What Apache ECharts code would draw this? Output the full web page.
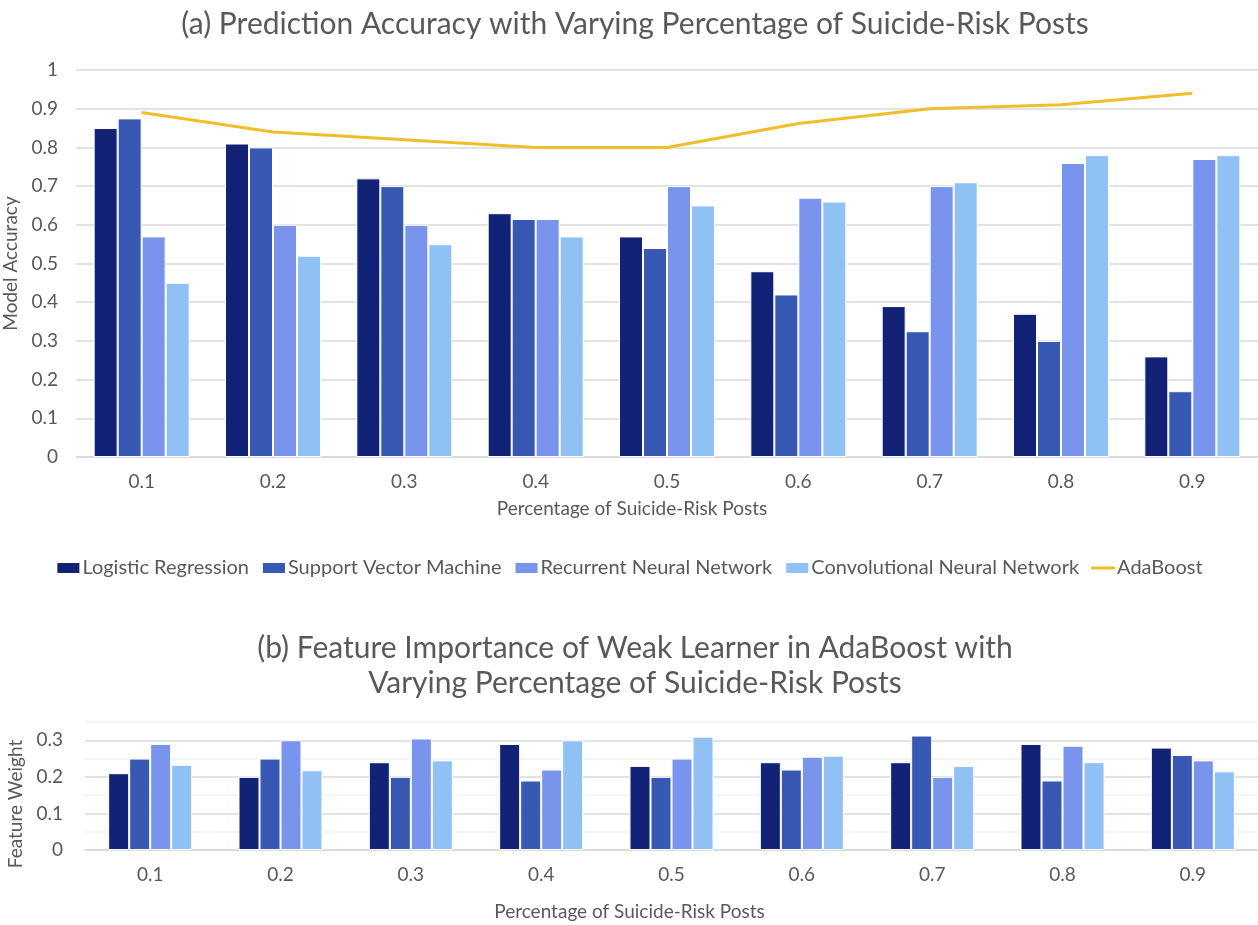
<!DOCTYPE html>
<html>
<head>
<meta charset="utf-8">
<title>Suicide-Risk Posts</title>
<script src="https://cdn.jsdelivr.net/npm/echarts@6/dist/echarts.min.js"></script>
<style>
  html, body { margin: 0; padding: 0; background: #fff; }
  #main { width: 1258px; height: 925px; }
</style>
</head>
<body>
<div id="main"></div>
<script>
// 横轴类别
const categories = ['0.1', '0.2', '0.3', '0.4', '0.5', '0.6', '0.7', '0.8', '0.9'];

// (a) 模型准确率
const accLR = [0.85, 0.81, 0.72, 0.63, 0.57, 0.48, 0.39, 0.37, 0.26];
const accSVM = [0.875, 0.80, 0.70, 0.615, 0.54, 0.42, 0.325, 0.30, 0.17];
const accRNN = [0.57, 0.60, 0.60, 0.615, 0.70, 0.67, 0.70, 0.76, 0.77];
const accCNN = [0.45, 0.52, 0.55, 0.57, 0.65, 0.66, 0.71, 0.78, 0.78];
const accAda = [0.89, 0.84, 0.82, 0.80, 0.80, 0.862, 0.90, 0.91, 0.94];

// (b) 特征权重
const wLR = [0.21, 0.20, 0.24, 0.29, 0.23, 0.24, 0.24, 0.29, 0.28];
const wSVM = [0.25, 0.25, 0.20, 0.19, 0.20, 0.22, 0.313, 0.19, 0.26];
const wRNN = [0.29, 0.30, 0.305, 0.22, 0.25, 0.255, 0.20, 0.285, 0.245];
const wCNN = [0.233, 0.218, 0.245, 0.30, 0.31, 0.258, 0.23, 0.24, 0.215];

const names = ['Logistic Regression', 'Support Vector Machine', 'Recurrent Neural Network', 'Convolutional Neural Network'];
const colors = ['#122276', '#3759b3', '#7894ec', '#8fc1f5'];
const lineColor = '#f0be2a';
const textColor = '#595959';
const font = 'Lato';
// 图例线条图标
const dash = 'path://M0,0H24V3H0Z';

const chart = echarts.init(document.getElementById('main'));

function barSeries(name, data, color, idx, width) {
  return {
    name: name,
    type: 'bar',
    xAxisIndex: idx,
    yAxisIndex: idx,
    data: data,
    barWidth: width,
    barGap: '0%',
    itemStyle: { color: color, borderColor: '#ffffff', borderWidth: 1 },
    emphasis: { disabled: true }
  };
}

const xAxisBase = {
  type: 'category',
  data: categories,
  axisLine: { lineStyle: { color: '#d9d9d9', width: 1.5 } },
  axisTick: { show: false },
  axisLabel: { color: textColor, fontSize: 19, fontFamily: font, margin: 15 },
  nameLocation: 'middle'
};

const option = {
  animation: false,
  backgroundColor: '#ffffff',
  title: [
    {
      text: '(a) Prediction Accuracy with Varying Percentage of Suicide-Risk Posts',
      left: 630, top: 4, textAlign: 'center',
      textStyle: { color: textColor, fontSize: 30, fontWeight: 'normal', fontFamily: font }
    },
    {
      text: '(b) Feature Importance of Weak Learner in AdaBoost with\nVarying Percentage of Suicide-Risk Posts',
      left: 630, top: 626, textAlign: 'center',
      textStyle: { color: textColor, fontSize: 30, fontWeight: 'normal', fontFamily: font, lineHeight: 35 }
    }
  ],
  legend: {
    data: [
      { name: names[0], icon: 'rect' },
      { name: names[1], icon: 'rect' },
      { name: names[2], icon: 'rect' },
      { name: names[3], icon: 'rect' },
      { name: 'AdaBoost', icon: dash }
    ],
    left: 'center', top: 553,
    itemWidth: 24, itemHeight: 12, itemGap: 12,
    textStyle: { color: textColor, fontSize: 20, fontFamily: font, padding: [0, 0, 0, -3] }
  },
  grid: [
    { left: 76, right: 0, top: 70, height: 387, outerBoundsMode: 'none' },
    { left: 85, right: 0, top: 722, height: 128, outerBoundsMode: 'none' }
  ],
  xAxis: [
    Object.assign({}, xAxisBase, {
      gridIndex: 0, name: 'Percentage of Suicide-Risk Posts', nameGap: 42,
      nameTextStyle: { color: textColor, fontSize: 19, fontFamily: font, padding: [0, 70, 0, 0] }
    }),
    Object.assign({}, xAxisBase, {
      gridIndex: 1, name: 'Percentage of Suicide-Risk Posts', nameGap: 52,
      nameTextStyle: { color: textColor, fontSize: 19, fontFamily: font, padding: [0, 84, 0, 0] }
    })
  ],
  yAxis: [
    {
      gridIndex: 0, type: 'value', min: 0, max: 1, interval: 0.1,
      name: 'Model Accuracy', nameLocation: 'middle', nameGap: 38,
      nameTextStyle: { color: textColor, fontSize: 19, fontFamily: font },
      axisLine: { show: false }, axisTick: { show: false },
      axisLabel: { color: textColor, fontSize: 19, fontFamily: font, margin: 18 },
      splitLine: { lineStyle: { color: '#d9d9d9', width: 1.5 } }
    },
    {
      gridIndex: 1, type: 'value', min: 0, max: 0.35, interval: 0.05,
      name: 'Feature Weight', nameLocation: 'middle', nameGap: 54,
      nameTextStyle: { color: textColor, fontSize: 19, fontFamily: font, padding: [0, 36, 0, 0] },
      axisLine: { show: false }, axisTick: { show: false },
      axisLabel: {
        color: textColor, fontSize: 19, fontFamily: font, margin: 22,
        formatter: function (v) {
          const k = Math.round(v * 100);
          return k % 10 === 0 ? String(k / 100) : '';
        }
      },
      splitLine: { lineStyle: { color: ['#d9d9d9', '#f0f0f0'], width: 1.5 } }
    }
  ],
  series: [
    barSeries(names[0], accLR, colors[0], 0, 24),
    barSeries(names[1], accSVM, colors[1], 0, 24),
    barSeries(names[2], accRNN, colors[2], 0, 24),
    barSeries(names[3], accCNN, colors[3], 0, 24),
    {
      name: 'AdaBoost',
      type: 'line',
      xAxisIndex: 0, yAxisIndex: 0,
      data: accAda,
      symbol: 'none',
      lineStyle: { color: lineColor, width: 3 },
      itemStyle: { color: lineColor },
      emphasis: { disabled: true }
    },
    barSeries(names[0], wLR, colors[0], 1, 21),
    barSeries(names[1], wSVM, colors[1], 1, 21),
    barSeries(names[2], wRNN, colors[2], 1, 21),
    barSeries(names[3], wCNN, colors[3], 1, 21)
  ]
};

chart.setOption(option);
</script>
</body>
</html>
